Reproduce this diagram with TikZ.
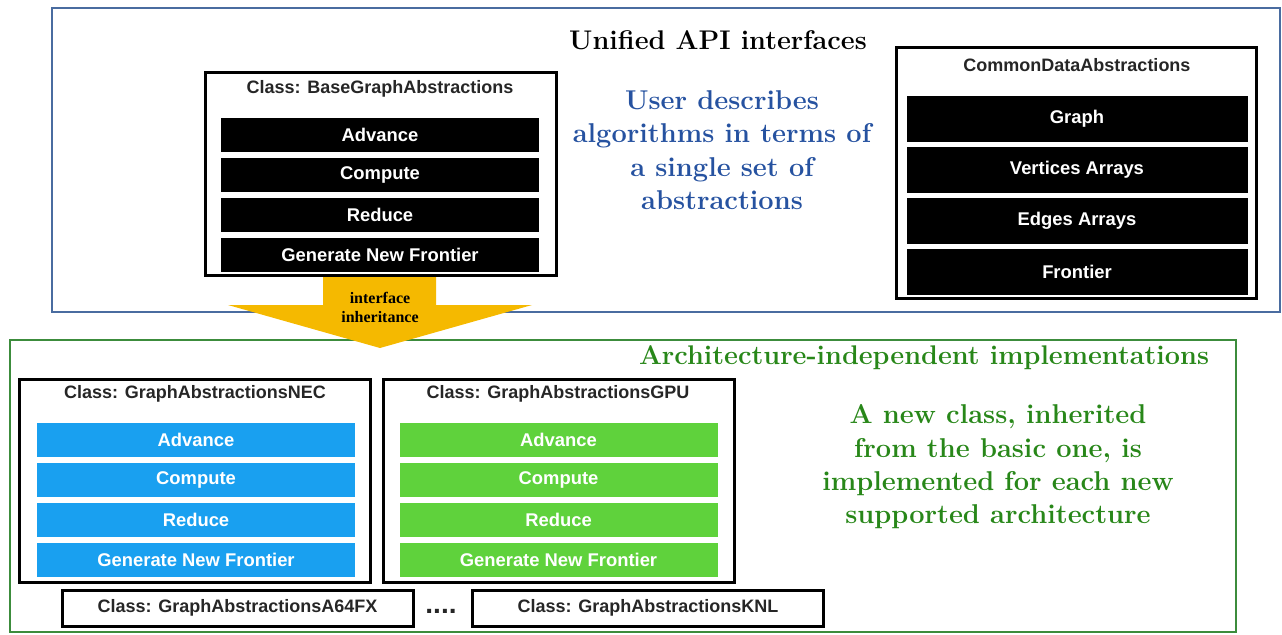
\documentclass[tikz,border=0pt]{standalone}
\usepackage{fontspec}
\usetikzlibrary{positioning}
\newfontfamily\boxfont{Liberation Sans}
\newfontfamily\arrowfont{Liberation Serif}
\definecolor{frameblue}{RGB}{74,108,160}
\definecolor{textblue}{RGB}{38,82,160}
\definecolor{framegreen}{RGB}{60,140,60}
\definecolor{textgreen}{RGB}{40,135,25}
\definecolor{barblue}{RGB}{25,160,240}
\definecolor{bargreen}{RGB}{95,210,60}
\definecolor{arrowyellow}{RGB}{245,185,0}

\begin{document}
\begin{tikzpicture}
    [
        x=0.5pt, y=-0.5pt, node distance=20pt, on grid, inner sep=0pt,
        blue_frame/.style={draw=frameblue, line width=1pt, minimum width=614pt, minimum height=152pt},
        green_frame/.style={draw=framegreen, line width=1pt, minimum width=613pt, minimum height=146pt},
        class_box/.style={draw=black, line width=1.5pt, minimum width=175.5pt, minimum height=101.5pt},
        small_box/.style={draw=black, line width=1.5pt, minimum width=175.5pt, minimum height=18pt},
        title_text/.style={font=\boxfont\bfseries\fontsize{9}{10}\selectfont, text=black!85},
        black_bar/.style={fill=black, text=white, font=\boxfont\bfseries\fontsize{9.2}{10}\selectfont, minimum width=159pt, minimum height=17pt},
        data_bar/.style={black_bar, minimum width=170.5pt, minimum height=23pt},
        blue_bar/.style={black_bar, fill=barblue},
        green_bar/.style={black_bar, fill=bargreen},
        head_text/.style={font=\bfseries\fontsize{13.5}{15}\selectfont},
        note_text/.style={font=\bfseries\fontsize{13.6}{16.7}\selectfont, align=center},
    ]
        \useasboundingbox (0,0) rectangle (1282,634);

        % frames
        \node[blue_frame] (api_frame) at (666,160) {} ;
        \node[green_frame] (impl_frame) at (623,486) {} ;
        \node[head_text] (api_head) at (718,40) {Unified API interfaces} ;
        \node[head_text, text=textgreen] (impl_head) at (924,358) {Architecture-independent implementations} ;

        % base class
        \node[class_box] (base_box) at (380.5,173.5) {} ;
        \node[title_text] (base_title) at (380,89) {Class: BaseGraphAbstractions} ;
        \node[black_bar] (base_adv) at (380,135) {Advance} ;
        \node[black_bar] (base_comp) [below = of base_adv] {Compute} ;
        \node[black_bar] (base_red) [below = of base_comp] {Reduce} ;
        \node[black_bar] (base_gen) [below = of base_red] {Generate New Frontier} ;

        \node[note_text, text=textblue] (api_note) at (722,150) {User describes\\algorithms in terms of\\a single set of\\abstractions} ;

        % common data
        \node[class_box, minimum width=180pt, minimum height=125.5pt] (data_box) at (1076,172.5) {} ;
        \node[title_text] (data_title) at (1077,65) {CommonDataAbstractions} ;
        \node[data_bar] (data_graph) at (1077,119) {Graph} ;
        \node[data_bar] (data_vert) [below = of data_graph, yshift=-5.5pt] {Vertices Arrays} ;
        \node[data_bar] (data_edge) [below = of data_vert, yshift=-5.5pt] {Edges Arrays} ;
        \node[data_bar] (data_front) [below = of data_edge, yshift=-5.5pt] {Frontier} ;

        % inheritance arrow
        \fill[arrowyellow] (323,277) -- (436,277) -- (436,305) -- (532,305) -- (380,348)
            -- (228,305) -- (323,305) -- cycle ;
        \node[font=\arrowfont\bfseries\fontsize{8}{9.5}\selectfont, align=center] (inherit_text) at (380,307) {interface\\inheritance} ;

        % NEC class
        \node[class_box] (nec_box) at (195,481) {} ;
        \node[title_text] (nec_title) at (195,394) {Class: GraphAbstractionsNEC} ;
        \node[blue_bar] (nec_adv) at (196,440) {Advance} ;
        \node[blue_bar] (nec_comp) [below = of nec_adv] {Compute} ;
        \node[blue_bar] (nec_red) [below = of nec_comp] {Reduce} ;
        \node[blue_bar] (nec_gen) [below = of nec_red] {Generate New Frontier} ;

        % GPU class
        \node[class_box] (gpu_box) at (558.5,481) {} ;
        \node[title_text] (gpu_title) at (558,394) {Class: GraphAbstractionsGPU} ;
        \node[green_bar] (gpu_adv) at (558.5,440) {Advance} ;
        \node[green_bar] (gpu_comp) [below = of gpu_adv] {Compute} ;
        \node[green_bar] (gpu_red) [below = of gpu_comp] {Reduce} ;
        \node[green_bar] (gpu_gen) [below = of gpu_red] {Generate New Frontier} ;

        \node[note_text, text=textgreen] (impl_note) at (998,467) {A new class, inherited\\from the basic one, is\\implemented for each new\\supported architecture} ;

        % other architectures
        \node[small_box, title_text] (a64_box) at (237.5,608) {Class: GraphAbstractionsA64FX} ;
        \node[title_text, font=\boxfont\bfseries\fontsize{14}{14}\selectfont] (more_dots) at (441,611) {....} ;
        \node[small_box, title_text] (knl_box) at (648,608) {Class: GraphAbstractionsKNL} ;
    \end{tikzpicture}
\end{document}
